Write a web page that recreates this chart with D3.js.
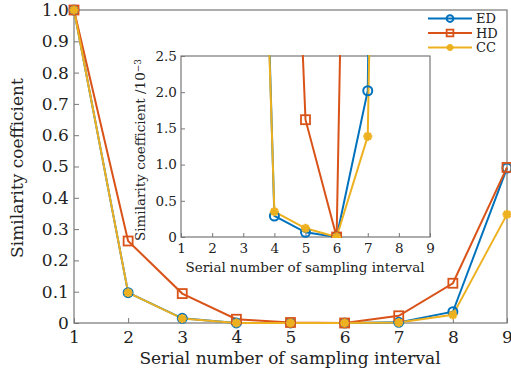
<!DOCTYPE html>
<html>
<head>
<meta charset="utf-8">
<script src="https://cdn.jsdelivr.net/npm/d3@7"></script>
<style>
  body { margin: 0; background: #fff; }
  svg text { font-family: "DejaVu Serif", serif; fill: #222; }
</style>
</head>
<body>
<div class="chart"></div>
<script>
// Data
const intervals = [1, 2, 3, 4, 5, 6, 7, 8, 9];
const edValues = [1, 0.097, 0.015, 0.00029, 0.000065, 0, 0.00202, 0.036, 0.495];
const hdValues = [1, 0.262, 0.094, 0.012, 0.00162, 0, 0.023, 0.127, 0.497];
const ccValues = [1, 0.097, 0.014, 0.00035, 0.00012, 0, 0.00139, 0.026, 0.347];
const mainYTicks = [0, 0.1, 0.2, 0.3, 0.4, 0.5, 0.6, 0.7, 0.8, 0.9, 1.0];
const insetYTicks = [0, 0.5, 1.0, 1.5, 2.0, 2.5];

const series = [
  { name: "ED", values: edValues, color: "#0072BD", marker: "circle" },
  { name: "HD", values: hdValues, color: "#D95319", marker: "square" },
  { name: "CC", values: ccValues, color: "#EDB120", marker: "star" }
];

const W = 511, H = 376;
const svg = d3.select(".chart").append("svg")
  .attr("width", W)
  .attr("height", H);

// draw one marker of a given type at (x,y)
function drawMarker(g, type, x, y, color, s) {
  if (type === "circle") {
    g.append("circle").attr("cx", x).attr("cy", y).attr("r", 4.5 * s)
      .attr("fill", "none").attr("stroke", color).attr("stroke-width", 2);
  } else if (type === "square") {
    g.append("rect").attr("x", x - 4.5 * s).attr("y", y - 4.5 * s)
      .attr("width", 9 * s).attr("height", 9 * s)
      .attr("fill", "none").attr("stroke", color).attr("stroke-width", 1.8);
  } else {
    const r = 4.5 * s;
    [0, 45, 90, 135].forEach(a => {
      const rad = a * Math.PI / 180;
      g.append("line")
        .attr("x1", x - r * Math.cos(rad)).attr("y1", y - r * Math.sin(rad))
        .attr("x2", x + r * Math.cos(rad)).attr("y2", y + r * Math.sin(rad))
        .attr("stroke", color).attr("stroke-width", 2.6);
    });
  }
}

function drawPlot(opts) {
  const { left, right, top, bottom, yMax, yScaleFactor, yTicks, yFmt, fs, tickLen, id, clip } = opts;
  const x = d3.scaleLinear().domain([1, 9]).range([left, right]);
  const y = d3.scaleLinear().domain([0, yMax]).range([bottom, top]);
  const g = svg.append("g");

  g.append("rect").attr("x", left).attr("y", top)
    .attr("width", right - left).attr("height", bottom - top)
    .attr("fill", "#fff");

  // axes
  const xAxis = g.append("g").attr("transform", `translate(0,${bottom})`)
    .call(d3.axisBottom(x).tickValues(intervals).tickFormat(d3.format("d"))
      .tickSizeInner(-tickLen).tickSizeOuter(0).tickPadding(fs * 0.45));
  const yAxis = g.append("g").attr("transform", `translate(${left},0)`)
    .call(d3.axisLeft(y).tickValues(yTicks).tickFormat(yFmt)
      .tickSizeInner(-tickLen).tickSizeOuter(0).tickPadding(fs * 0.3));
  [xAxis, yAxis].forEach(a => {
    a.select(".domain").remove();
    a.selectAll("line").attr("stroke", "#555").attr("stroke-width", 0.8);
    a.selectAll("text").style("font-size", fs + "px")
      .style("font-family", "'DejaVu Serif', serif").attr("fill", "#222");
  });

  // frame
  g.append("rect").attr("x", left).attr("y", top)
    .attr("width", right - left).attr("height", bottom - top)
    .attr("fill", "none").attr("stroke", "#777").attr("stroke-width", 1.2);

  const plotG = g.append("g");
  if (clip) {
    svg.append("clipPath").attr("id", id).append("rect")
      .attr("x", left).attr("y", top - 1)
      .attr("width", right - left + 2).attr("height", bottom - top + 2);
    plotG.attr("clip-path", `url(#${id})`);
  }

  const line = d3.line().x((d, i) => x(intervals[i])).y(d => y(d * yScaleFactor));
  series.forEach(s => {
    plotG.append("path").datum(s.values).attr("d", line)
      .attr("fill", "none").attr("stroke", s.color).attr("stroke-width", 2);
  });
  series.forEach(s => {
    const mg = plotG.append("g");
    s.values.forEach((v, i) => {
      const yy = y(v * yScaleFactor);
      if (yy >= top - 5) drawMarker(mg, s.marker, x(intervals[i]), yy, s.color, opts.ms);
    });
  });
  return { x, y };
}

// main plot
drawPlot({
  left: 74, right: 507, top: 10, bottom: 323, yMax: 1, yScaleFactor: 1,
  yTicks: mainYTicks, yFmt: d => d === 0 ? "0" : d3.format(".1f")(d),
  fs: 17, tickLen: 5, id: "clipMain", clip: false, ms: 1
});

// legend
const legend = svg.append("g");
series.forEach((s, i) => {
  const ly = 18.5 + i * 14.5;
  legend.append("line").attr("x1", 428).attr("x2", 472).attr("y1", ly).attr("y2", ly)
    .attr("stroke", s.color).attr("stroke-width", 2);
  drawMarker(legend, s.marker, 450, ly, s.color, 0.75);
  legend.append("text").attr("x", 476).attr("y", ly).attr("dy", "0.36em")
    .style("font-size", "13px").text(s.name);
});

// axis labels main
svg.append("text").attr("x", 290).attr("y", 364)
  .attr("text-anchor", "middle").style("font-size", "17px")
  .text("Serial number of sampling interval");
svg.append("text").attr("transform", "translate(23,168) rotate(-90)")
  .attr("text-anchor", "middle").style("font-size", "17px")
  .text("Similarity coefficient");

// inset plot (values in 10^-3)
drawPlot({
  left: 181, right: 430, top: 56, bottom: 237, yMax: 2.5, yScaleFactor: 1000,
  yTicks: insetYTicks, yFmt: d => d === 0 ? "0" : d3.format(".1f")(d),
  fs: 13.5, tickLen: 4, id: "clipInset", clip: true, ms: 1
});

svg.append("text").attr("x", 305).attr("y", 272)
  .attr("text-anchor", "middle").style("font-size", "13.5px")
  .text("Serial number of sampling interval");
const yl = svg.append("text").attr("transform", "translate(145,150) rotate(-90)")
  .attr("text-anchor", "middle").style("font-size", "13.5px");
yl.append("tspan").text("Similarity coefficient /10");
yl.append("tspan").attr("dy", "-0.45em").style("font-size", "9px").text("−3");
</script>
</body>
</html>
